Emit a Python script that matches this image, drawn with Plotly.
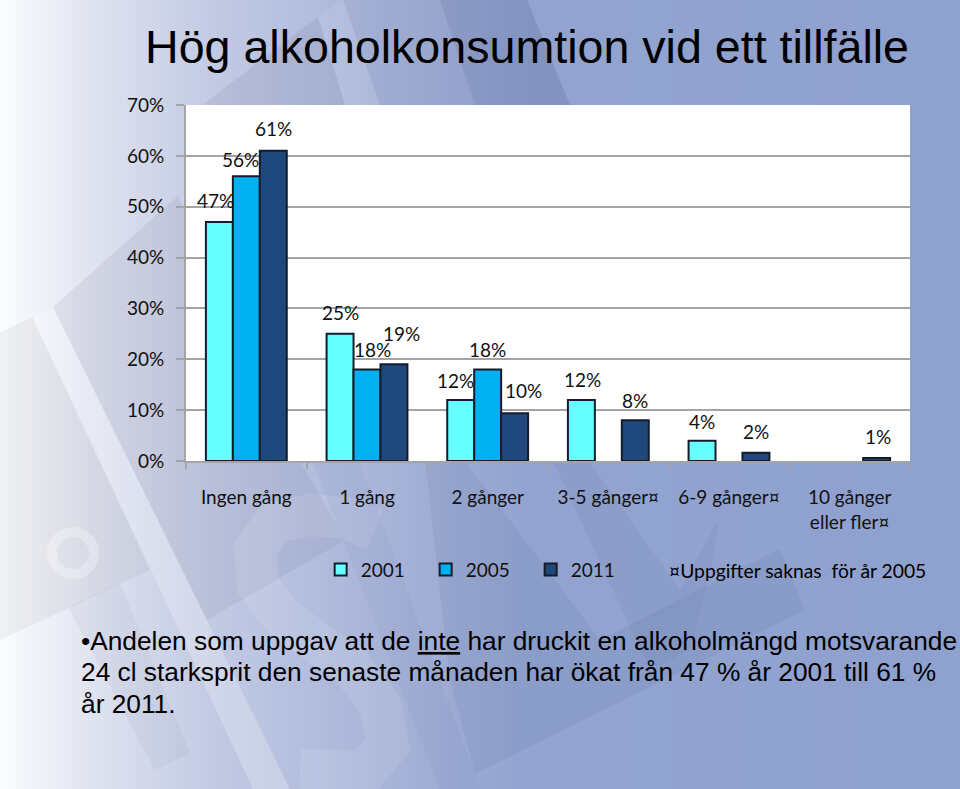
import plotly.graph_objects as go

categories = ["Ingen gång", "1 gång", "2 gånger", "3-5 gånger¤", "6-9 gånger¤", "10 gånger<br>eller fler¤"]
series_names = ["2001", "2005", "2011"]
values_2001 = [47, 25, 12, 12, 4, None]
values_2005 = [56, 18, 18, None, None, None]
values_2011 = [61, 19, 9.4, 8, 1.6, 0.6]
labels_2001 = ["47%", "25%", "12%", "12%", "4%", None]
labels_2005 = ["56%", "18%", "18%", None, None, None]
labels_2011 = ["61%", "19%", "10%", "8%", "2%", "1%"]
y_ticks = [0, 10, 20, 30, 40, 50, 60, 70]
y_tick_labels = ["0%", "10%", "20%", "30%", "40%", "50%", "60%", "70%"]

colors = ["#66FFFF", "#00B0F0", "#1F497D"]
edge = "#141c2a"
grid = "#a3a3a8"

# the labels were dragged by hand in the original, offsets are in pixels from the bar top
label_dx = [[-4, 0, -5, 1, 0, 0], [-6, 5, 0, 0, 0, 0], [0, 7, 9, 0, 0, 1]]
label_dy = [[21, 21, 19, 20, 19, 0], [17, 20, 20, 0, 0, 0], [22, 31, 23, 20, 21, 21]]

# background, left to right
bg_stops = [(0, "#fbfcfe"), (40, "#f0f1f8"), (100, "#dde0ee"), (200, "#c5cce4"), (300, "#b4bede"), (400, "#a5b1d6"),
            (520, "#93a4d0"), (960, "#8fa1cf")]


def hex_rgb(c):
    return [int(c[i:i + 2], 16) for i in (1, 3, 5)]


def bg_color(px):
    for (x0, c0), (x1, c1) in zip(bg_stops, bg_stops[1:]):
        if x0 <= px <= x1:
            t = (px - x0) / (x1 - x0)
            a, b = hex_rgb(c0), hex_rgb(c1)
            return "rgb(%d,%d,%d)" % tuple(a[k] + (b[k] - a[k]) * t for k in range(3))
    return bg_stops[-1][1]


W, H = 960, 789


def xp(px):
    return (px - 186) / 724


def yp(py):
    return (461 - py) / 356


def paper_rect(x0, x1, color):
    return dict(type="rect", xref="paper", yref="paper", layer="below", line_width=0, fillcolor=color,
                x0=xp(x0), x1=xp(x1), y0=yp(H), y1=yp(0))


def paper_path(points, color):
    # points are in screen pixels
    d = "M" + "L".join("%.4f,%.4f" % (xp(x), yp(y)) for x, y in points) + "Z"
    return dict(type="path", xref="paper", yref="paper", layer="below", line_width=0, fillcolor=color, path=d)


def paper_stroke(points, color, width):
    d = "M" + "L".join("%.4f,%.4f" % (xp(x), yp(y)) for x, y in points)
    return dict(type="path", xref="paper", yref="paper", layer="below", line=dict(color=color, width=width), path=d)


shapes = []
for px in range(0, 960, 8):
    shapes.append(paper_rect(px, px + 9, bg_color(px)))

# watermark pieces, the big faded logo behind the slide
shapes.append(paper_path([(0, 333), (32, 317), (150, 570), (0, 640)], "rgba(120,120,125,0.09)"))
shapes.append(paper_path([(33, 317), (53, 307), (290, 789), (253, 789)], "rgba(255,255,255,0.24)"))
shapes.append(paper_path([(53, 307), (178, 196), (300, 461), (345, 540), (207, 620)], "rgba(100,100,125,0.10)"))
shapes.append(paper_path([(68, 607), (120, 583), (190, 753), (155, 770)], "rgba(120,125,150,0.07)"))
shapes.append(dict(type="circle", xref="paper", yref="paper", layer="below", fillcolor="rgba(0,0,0,0)",
                   line=dict(color="rgba(255,255,255,0.30)", width=10),
                   x0=xp(52), x1=xp(94), y0=yp(574), y1=yp(532)))
shapes.append(paper_stroke([(375, 530), (345, 518), (310, 515), (275, 522), (255, 550), (258, 585), (285, 620),
                            (350, 665), (380, 705), (388, 745), (365, 772), (300, 770)], "rgba(255,255,255,0.10)", 42))
shapes.append(paper_path([(313, 463), (360, 463), (480, 789), (440, 789)], "rgba(90,100,150,0.06)"))
shapes.append(paper_path([(425, 461), (465, 461), (600, 640), (780, 549), (805, 610), (475, 774), (450, 680)],
                         "rgba(70,85,135,0.09)"))
shapes.append(paper_path([(553, 461), (589, 461), (680, 590), (718, 520), (714, 556), (690, 650), (650, 670)],
                         "rgba(70,85,135,0.07)"))
shapes.append(paper_path([(202, 105), (318, 17), (345, 105)], "rgba(90,90,120,0.10)"))
shapes.append(paper_path([(318, 17), (343, 0), (380, 105), (345, 105)], "rgba(255,255,255,0.08)"))
shapes.append(paper_path([(343, 0), (440, 0), (475, 105), (380, 105)], "rgba(80,95,140,0.08)"))
shapes.append(paper_path([(440, 0), (527, 0), (570, 105), (475, 105)], "rgba(70,85,135,0.20)"))
# white plot area on top of the background
shapes.append(dict(type="rect", xref="x domain", yref="y domain", layer="below", line_width=0,
                   fillcolor="white", x0=0, x1=1, y0=0, y1=1))

fig = go.Figure()
for name, vals, col in zip(series_names, [values_2001, values_2005, values_2011], colors):
    fig.add_trace(go.Bar(x=categories, y=vals, name=name, marker=dict(color=col, line=dict(color=edge, width=2))))

annotations = []
for j, labels in enumerate([labels_2001, labels_2005, labels_2011]):
    vals = [values_2001, values_2005, values_2011][j]
    for i, lab in enumerate(labels):
        if lab is None:
            continue
        annotations.append(dict(x=categories[i], y=vals[i], text=lab, showarrow=False, yanchor="middle",
                                xshift=27 * (j - 1) + label_dx[j][i], yshift=label_dy[j][i],
                                font=dict(family="Lato", size=19, color="#111")))


def note(px, py, text, size, family="Liberation Sans"):
    annotations.append(dict(xref="paper", yref="paper", x=xp(px), y=yp(py), text=text,
                            showarrow=False, xanchor="left", yanchor="middle", align="left",
                            font=dict(family=family, size=size, color="#000")))


note(143, 47, "Hög alkoholkonsumtion vid ett tillfälle", 46.6)
note(667, 570, "¤Uppgifter saknas  för år 2005", 19.3, family="Lato")
note(79, 641, "•Andelen som uppgav att de <u>inte</u> har druckit en alkoholmängd motsvarande", 26.3)
note(79, 672, "24 cl starksprit den senaste månaden har ökat från 47 % år 2001 till 61 %", 26.3)
note(79, 704, "år 2011.", 26.3)

fig.update_layout(
    width=W,
    height=H,
    margin=dict(l=186, r=50, t=105, b=328),
    barmode="group",
    bargap=0.33,
    bargroupgap=0,
    plot_bgcolor="rgba(0,0,0,0)",
    paper_bgcolor="#8fa1cf",
    font=dict(family="Lato", size=19, color="#111"),
    shapes=shapes,
    annotations=annotations,
    legend=dict(orientation="h", x=0.186, y=-0.252, xanchor="left", yanchor="top", entrywidth=60,
                entrywidthmode="pixels", bgcolor="rgba(0,0,0,0)", traceorder="normal"),
)
fig.update_xaxes(showline=True, linecolor=grid, linewidth=2, ticks="outside", ticklen=6, tickcolor=grid, tickwidth=2,
                 tickson="boundaries", showgrid=False, ticklabelstandoff=18)
fig.update_yaxes(range=[0, 70], tickvals=y_ticks, ticktext=y_tick_labels, showline=True, linecolor=grid, linewidth=2,
                 ticks="outside", ticklen=8, tickcolor=grid, tickwidth=2, gridcolor=grid, gridwidth=2,
                 zeroline=False, ticklabelstandoff=8)

fig.write_html("out.html", config={"displayModeBar": False},
               post_script="document.body.style.margin='0';document.body.style.overflow='hidden';")
